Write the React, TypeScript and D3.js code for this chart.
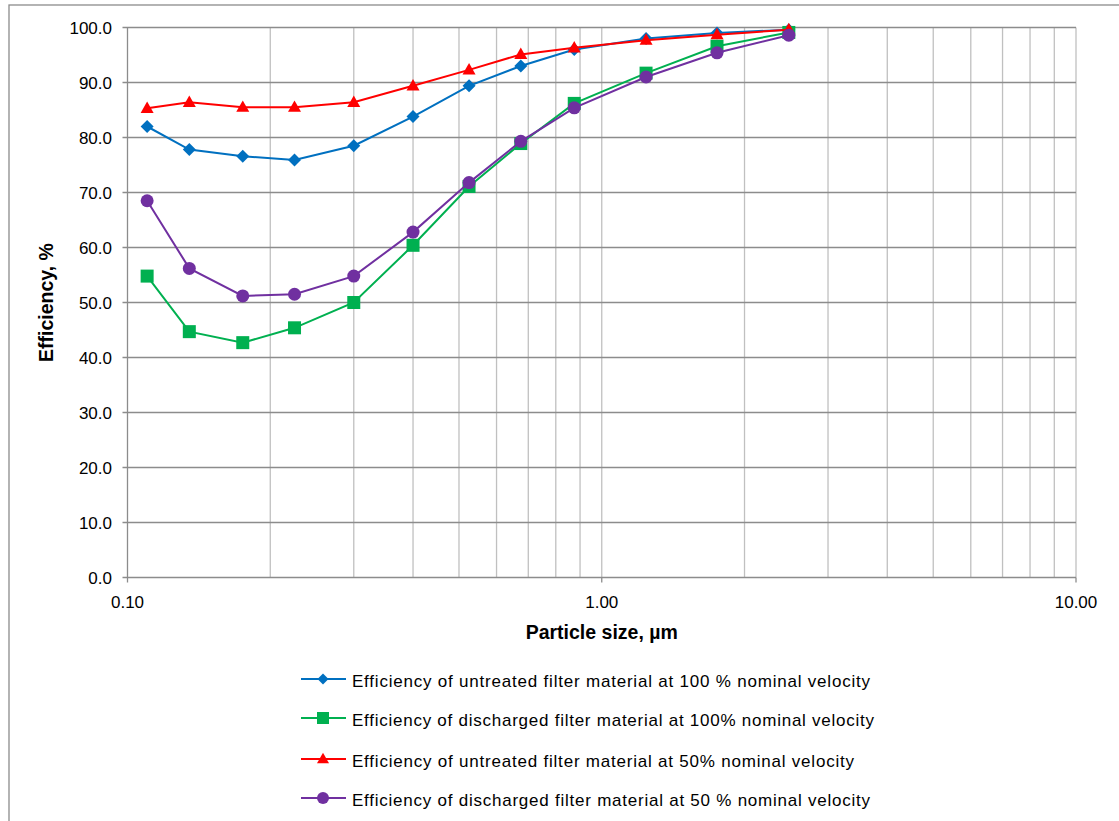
import React from "react";
import * as d3 from "d3";

// particle sizes (µm)
const sizes = [0.11, 0.135, 0.175, 0.225, 0.3, 0.4, 0.525, 0.675, 0.875, 1.24, 1.75, 2.48];

const untreated100 = [82.0, 77.8, 76.6, 75.9, 78.5, 83.8, 89.4, 93.0, 96.0, 98.0, 99.0, 99.6];
const discharged100 = [54.8, 44.7, 42.7, 45.4, 50.0, 60.4, 71.1, 78.9, 86.2, 91.7, 96.6, 99.1];
const untreated50 = [85.3, 86.4, 85.5, 85.5, 86.4, 89.4, 92.3, 95.1, 96.3, 97.7, 98.7, 99.6];
const discharged50 = [68.5, 56.2, 51.2, 51.5, 54.8, 62.8, 71.8, 79.3, 85.4, 91.0, 95.4, 98.6];

const seriesNames = [
  "Efficiency of untreated filter material at 100 % nominal velocity",
  "Efficiency of discharged filter material at 100% nominal velocity",
  "Efficiency of untreated filter material at 50% nominal velocity",
  "Efficiency of discharged filter material at 50 % nominal velocity",
];
const seriesColors = ["#0070C0", "#00B050", "#FF0000", "#7030A0"];
const seriesMarkers = ["diamond", "square", "triangle", "circle"];
const seriesValues = [untreated100, discharged100, untreated50, discharged50];

const yTicks = [0, 10, 20, 30, 40, 50, 60, 70, 80, 90, 100];
const xMajor = [0.1, 1, 10];

const W = 1119;
const H = 821;
const margin = { left: 127.5, top: 27.5, right: 1076, bottom: 577.5 };
const font = "Liberation Sans, Arial, sans-serif";

// legend layout
const legendRows = [679, 718, 759, 798];
const legendTextWidths = [518, 522, 502, 518];

const Marker = ({ kind, color, x, y, size = 13 }: { kind: string; color: string; x: number; y: number; size?: number }) => {
  const h = size / 2;
  if (kind === "diamond") {
    return <path d={`M${x},${y - h}L${x + h},${y}L${x},${y + h}L${x - h},${y}Z`} fill={color} />;
  }
  if (kind === "square") {
    return <rect x={x - h} y={y - h} width={size} height={size} fill={color} />;
  }
  if (kind === "triangle") {
    const th = size * 0.88;
    return <path d={`M${x},${y - th * 0.6}L${x + h},${y + th * 0.4}L${x - h},${y + th * 0.4}Z`} fill={color} />;
  }
  return <circle cx={x} cy={y} r={h} fill={color} />;
};

export default function App() {
  const x = d3.scaleLog().domain([0.1, 10]).range([margin.left, margin.right]);
  const y = d3.scaleLinear().domain([0, 100]).range([margin.bottom, margin.top]);

  // minor log gridlines 0.2..0.9, 1, 2..9
  const xGrid: number[] = [];
  [0.1, 1].forEach((d) => {
    for (let i = 2; i <= 9; i++) xGrid.push(+(d * i).toFixed(2));
  });
  xGrid.push(1);

  const line = d3
    .line<[number, number]>()
    .x((d) => x(d[0]))
    .y((d) => y(d[1]));

  return (
    <svg
      width={W}
      height={H}
      style={{ position: "absolute", left: 0, top: 0, background: "#fff" }}
      fontFamily={font}
    >
      {/* chart frame */}
      <rect x={9} y={5} width={W + 20} height={H + 20} fill="#fff" stroke="#8c8c8c" strokeWidth={1.3} />

      {/* vertical grid */}
      {xGrid.map((d) => (
        <line key={"vx" + d} x1={x(d)} x2={x(d)} y1={margin.top} y2={margin.bottom} stroke="#c0c0c0" strokeWidth={1.3} />
      ))}
      <line x1={margin.right} x2={margin.right} y1={margin.top} y2={margin.bottom} stroke="#c0c0c0" strokeWidth={1.3} />

      {/* horizontal grid */}
      {yTicks.map((t) => (
        <line key={"hy" + t} x1={margin.left - 5} x2={margin.right} y1={y(t)} y2={y(t)} stroke="#8c8c8c" strokeWidth={1.3} />
      ))}
      <line x1={margin.left} x2={margin.left} y1={margin.top} y2={margin.bottom} stroke="#8c8c8c" strokeWidth={1.3} />
      {xMajor.map((t) => (
        <line key={"xt" + t} x1={x(t)} x2={x(t)} y1={margin.bottom} y2={margin.bottom + 5} stroke="#8c8c8c" strokeWidth={1.3} />
      ))}

      {/* y tick labels */}
      {yTicks.map((t) => (
        <text key={"yl" + t} x={margin.left - 15.5} y={y(t)} dy="0.36em" textAnchor="end" fontSize={17} fill="#000">
          {t.toFixed(1)}
        </text>
      ))}
      {/* x tick labels */}
      {xMajor.map((t) => (
        <text key={"xl" + t} x={x(t)} y={margin.bottom + 30} textAnchor="middle" fontSize={17} fill="#000">
          {t.toFixed(2)}
        </text>
      ))}

      {/* axis titles */}
      <text x={x(1)} y={639} textAnchor="middle" fontSize={19.5} fontWeight="bold">
        Particle size, µm
      </text>
      <text
        transform={`translate(53, ${(margin.top + margin.bottom) / 2}) rotate(-90)`}
        textAnchor="middle"
        fontSize={19.5}
        fontWeight="bold"
      >
        Efficiency, %
      </text>

      {/* series */}
      {seriesValues.map((vals, i) => {
        const pts = sizes.map((s, j) => [s, vals[j]] as [number, number]);
        return (
          <g key={"s" + i}>
            <path d={line(pts) || ""} fill="none" stroke={seriesColors[i]} strokeWidth={2} />
            {pts.map((p, j) => (
              <Marker key={j} kind={seriesMarkers[i]} color={seriesColors[i]} x={x(p[0])} y={y(p[1])} size={13} />
            ))}
          </g>
        );
      })}

      {/* legend */}
      {seriesNames.map((name, i) => (
        <g key={"lg" + i}>
          <line x1={301} x2={346} y1={legendRows[i]} y2={legendRows[i]} stroke={seriesColors[i]} strokeWidth={2} />
          <Marker kind={seriesMarkers[i]} color={seriesColors[i]} x={323} y={legendRows[i]} size={i === 0 ? 11 : 12} />
          <text
            x={352}
            y={legendRows[i] + 2}
            dy="0.35em"
            fontSize={17}
            fill="#000"
            textLength={legendTextWidths[i]}
            lengthAdjust="spacing"
          >
            {name}
          </text>
        </g>
      ))}
    </svg>
  );
}
